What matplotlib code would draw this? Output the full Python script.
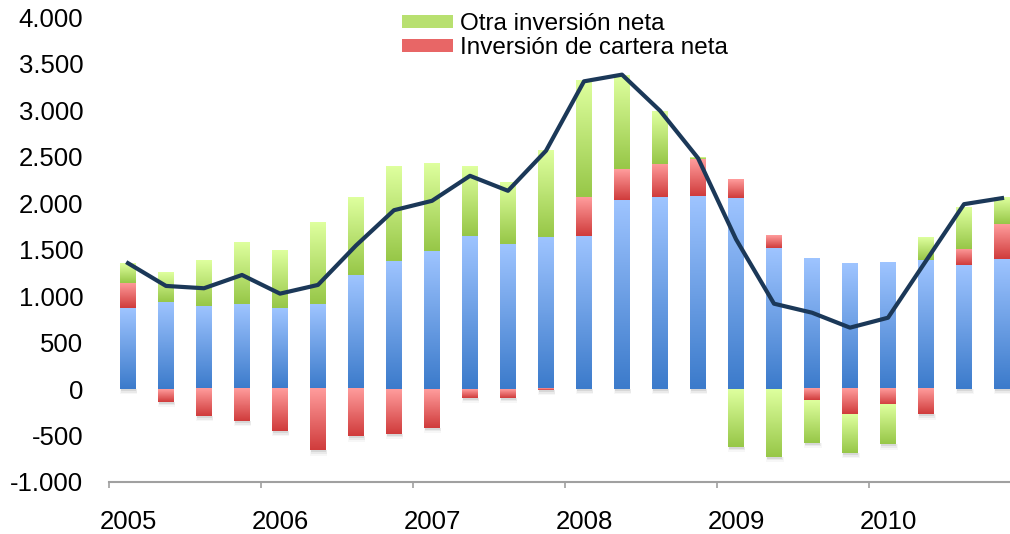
import numpy as np
import matplotlib
matplotlib.use("Agg")
import matplotlib.pyplot as plt
from matplotlib.colors import LinearSegmentedColormap
from matplotlib.patches import Patch
from matplotlib.ticker import FuncFormatter

plt.rcParams['font.family'] = ['Liberation Sans', 'DejaVu Sans']

# trimestres 2005-2010
years = ['2005', '2006', '2007', '2008', '2009', '2010']
# inversión directa neta (azul)
directa = [870, 937, 894, 912, 870, 912, 1225, 1379, 1487, 1649, 1559, 1638,
           1649, 2037, 2062, 2080, 2055, 1516, 1404, 1350, 1361, 1386, 1333, 1404]
# inversión de cartera neta (rojo)
cartera = [275, -137, -291, -345, -453, -661, -510, -481, -417, -93, -93, -11,
           413, 330, 359, 395, 194, 133, -122, -273, -176, -273, 179, 371]
# otra inversión neta (verde)
otra = [205, 316, 485, 658, 617, 880, 830, 1021, 945, 743, 665, 927,
        1250, 1006, 564, 15, -621, -729, -456, -417, -420, 237, 442, 280]
# total (línea)
total = [1355, 1110, 1085, 1228, 1027, 1121, 1545, 1925, 2026, 2295, 2134, 2565,
         3312, 3384, 2996, 2486, 1613, 919, 822, 661, 768, 1380, 1990, 2055]

series = [
    (directa, '#9EC4FF', '#3C7BCB'),
    (cartera, '#FF9C9C', '#D03C3C'),
    (otra, '#DEFF9E', '#97C748'),
]

fig = plt.figure(figsize=(10.10, 5.34), dpi=100)
ax = fig.add_axes([0.1079, 0.0974, 0.903, 0.870])

x = np.arange(len(directa))
w = 0.40
pos = np.zeros(len(x))
neg = np.zeros(len(x))

for vals, ctop, cbot in series:
    vals = np.array(vals, dtype=float)
    bottom = np.where(vals >= 0, pos, neg)
    bars = ax.bar(x, vals, w, bottom=bottom, color='none', edgecolor='none', zorder=2)
    pos = np.where(vals >= 0, pos + vals, pos)
    neg = np.where(vals < 0, neg + vals, neg)
    cmap = LinearSegmentedColormap.from_list('g', [cbot, ctop])
    for r in bars:
        y0 = min(r.get_y(), r.get_y() + r.get_height())
        y1 = max(r.get_y(), r.get_y() + r.get_height())
        if y1 - y0 < 1:
            continue
        ax.imshow(np.linspace(0, 1, 64).reshape(-1, 1), cmap=cmap, origin='lower',
                  aspect='auto', interpolation='bilinear', zorder=2,
                  extent=[r.get_x(), r.get_x() + r.get_width(), y0, y1])

# sombra bajo cada barra
for i in x:
    for k, a in enumerate([0.10, 0.07, 0.04]):
        off = 20 + 18 * k
        ax.bar(i + 0.02, off, w + 0.03 * k, bottom=neg[i] - off, color='#404040',
               alpha=a, zorder=1, edgecolor='none')

ax.plot(x, total, color='#1B3858', lw=3.0, zorder=5)

ax.set_xlim(-0.5, 23.5)
ax.set_ylim(-1000, 4000)
ax.set_yticks(np.arange(-1000, 4001, 500))
ax.yaxis.set_major_formatter(FuncFormatter(lambda v, p: f'{int(v):,}'.replace(',', '.')))
ax.tick_params(axis='y', length=0, pad=18.5, labelsize=18.5)

ax.set_xticks(np.arange(-0.5, 24, 4))
ax.set_xticklabels([])
ax.set_xticks(np.arange(0, 24, 4), minor=True)
ax.set_xticklabels(years, minor=True)
ax.tick_params(axis='x', which='major', length=4, color='#A0A0A0', width=1.2)
ax.tick_params(axis='x', which='minor', length=0, pad=20.5, labelsize=18.5)

for s in ['top', 'right', 'left']:
    ax.spines[s].set_visible(False)
ax.spines['bottom'].set_color('#A0A0A0')
ax.spines['bottom'].set_linewidth(1.5)

handles = [Patch(facecolor='#B8E070', edgecolor='none'),
           Patch(facecolor='#E86666', edgecolor='none')]
fig.legend(handles, ['Otra inversión neta', 'Inversión de cartera neta'],
           loc='upper left', bbox_to_anchor=(402 / 1010, 1 - 13 / 534), frameon=False,
           fontsize=17.5, handlelength=2.1, handleheight=0.45, handletextpad=0.3,
           labelspacing=0.1, borderpad=0, borderaxespad=0)

fig.savefig('out.png', dpi=100)
